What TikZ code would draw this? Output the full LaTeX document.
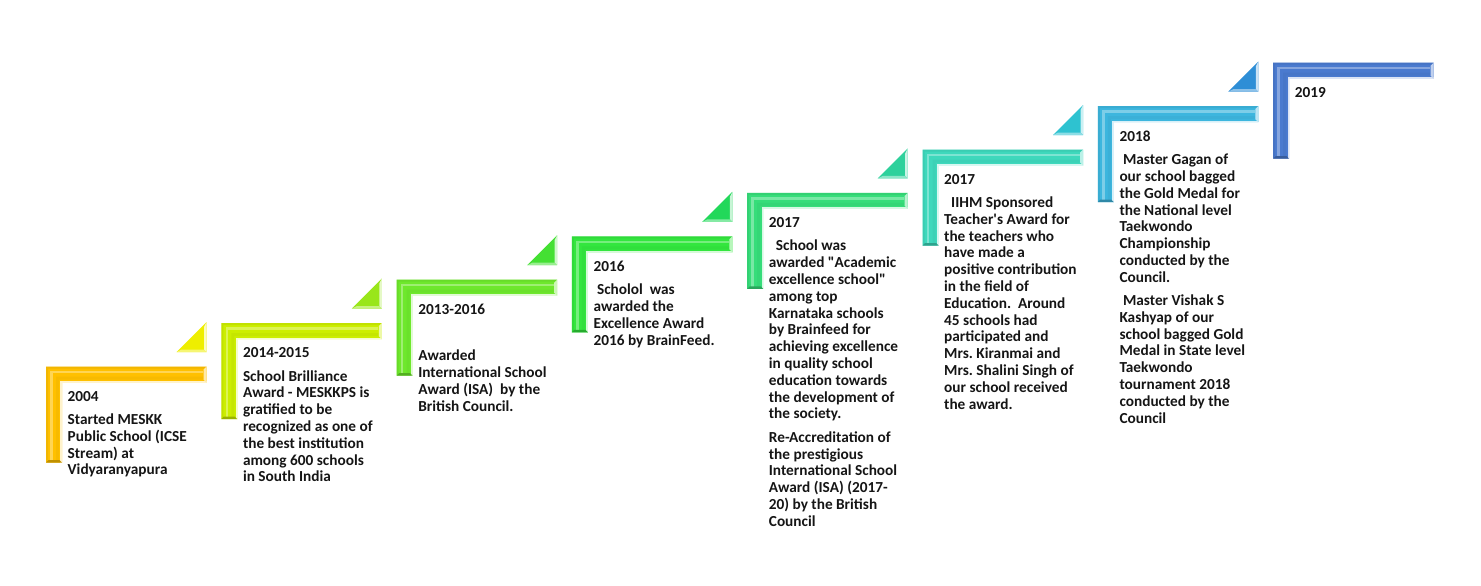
\documentclass[tikz,border=0pt]{standalone}
\usepackage{fontspec}
\setmainfont{Carlito}[Ligatures=TeXOff]
\definecolor{cA}{HTML}{FFC000}
\definecolor{tA}{HTML}{EEEE00}
\definecolor{cB}{HTML}{CCEE00}
\definecolor{tB}{HTML}{99E61A}
\definecolor{cC}{HTML}{6EE82C}
\definecolor{tC}{HTML}{44E033}
\definecolor{cD}{HTML}{33E63E}
\definecolor{tD}{HTML}{22D85A}
\definecolor{cE}{HTML}{36DD7A}
\definecolor{tE}{HTML}{2ED19C}
\definecolor{cF}{HTML}{3ED8BC}
\definecolor{tF}{HTML}{2EC2D0}
\definecolor{cG}{HTML}{3DB6DE}
\definecolor{tG}{HTML}{2E8ED6}
\definecolor{cH}{HTML}{4A7ACF}
\definecolor{txt}{HTML}{151515}
\newcommand\lstepshape[3]{%
 \begin{scope}[shift={(#1,#2)}]
  \fill[#3] (0,0) -- (160.5,0) -- (160.5,16) -- (16,16) -- (16,96) -- (0,96) -- cycle;
  \fill[#3!80!black, opacity=.25] (0,0) -- (160.5,0) -- (158.5,2) -- (2,2) -- (2,94) -- (0,96) -- cycle;
  \draw[#3!45!white, line width=2.5, opacity=.6] (157,5.5) -- (5.5,5.5) -- (5.5,94);
  \fill[#3!85!black, opacity=.2] (157,10) -- (10,10) -- (10,94) -- (13,94) -- (13,13) -- (157,13) -- cycle;
  \draw[#3!20!white, line width=1.8] (160.5,15.3) -- (15.3,15.3) -- (15.3,96);
  \fill[#3!35!white] (160.5,0) -- (160.5,16) -- (157.5,13) -- (157.5,3) -- cycle;
  \fill[#3!75!black] (0,96) -- (16,96) -- (13.5,93.5) -- (2.5,93.5) -- cycle;
 \end{scope}}
\newcommand\ltrishape[3]{%
 \begin{scope}[shift={(#1,#2)}]
  \fill[#3] (-30,0) -- (0,-30) -- (0,0) -- cycle;
  \fill[#3!25!white] (0,-30) -- (0,0) -- (-2.5,-2.5) -- (-2.5,-25) -- cycle;
  \fill[#3!55!white] (-30,0) -- (0,0) -- (-2.5,-2.5) -- (-25,-2.5) -- cycle;
 \end{scope}}
\tikzset{evtext/.style={anchor=north west, inner sep=0pt, align=left, text=txt,
  font=\fontsize{15.3}{16.8}\selectfont\bfseries\frenchspacing}}
\begin{document}
\begin{tikzpicture}[x=1pt, y=-1pt]
\useasboundingbox (0,0) rectangle (1481,586);
\lstepshape{46}{366.5}{cA}
\lstepshape{221.3}{323.1}{cB}
\lstepshape{396.6}{279.7}{cC}
\lstepshape{571.9}{236.3}{cD}
\lstepshape{747.2}{192.9}{cE}
\lstepshape{922.5}{149.5}{cF}
\lstepshape{1097.8}{106.1}{cG}
\lstepshape{1273.1}{62.7}{cH}
\ltrishape{206.5}{352}{tA}
\ltrishape{381.8}{308.6}{tB}
\ltrishape{557.1}{265.2}{tC}
\ltrishape{732.4}{221.8}{tD}
\ltrishape{907.7}{178.4}{tE}
\ltrishape{1083}{135}{tF}
\ltrishape{1258.3}{91.6}{tG}
\node[evtext] (e1) at (67.5,391) {2004\\[6.5pt]Started MESKK\\Public School (ICSE\\Stream) at\\Vidyaranyapura};
\node[evtext] (e2) at (242.8,347.6) {2014-2015\\[6.5pt]School Brilliance\\Award - MESKKPS is\\gratified to be\\recognized as one of\\the best institution\\among 600 schools\\in South India};
\node[evtext] (e3) at (418.1,304.2) {2013-2016\\[29pt]Awarded\\International School\\Award (ISA)~ by the\\British Council.};
\node[evtext] (e4) at (593.4,260.8) {2016\\[6.5pt]\hspace{3.5pt}Scholol~ was\\awarded the\\Excellence Award\\2016 by BrainFeed.};
\node[evtext] (e5) at (768.7,217.4) {2017\\[6.5pt]\hspace{7pt}School was\\awarded "Academic\\excellence school"\\among top\\Karnataka schools\\by Brainfeed for\\achieving excellence\\in quality school\\education towards\\the development of\\the society.\\[6.5pt]Re-Accreditation of\\the prestigious\\International School\\Award (ISA) (2017-\\20) by the British\\Council};
\node[evtext] (e6) at (944,174) {2017\\[6.5pt]\hspace{7pt}IIHM Sponsored\\Teacher's Award for\\the teachers who\\have made a\\positive contribution\\in the field of\\Education.~ Around\\45 schools had\\participated and\\Mrs. Kiranmai and\\Mrs. Shalini Singh of\\our school received\\the award.};
\node[evtext] (e7) at (1119.3,130.6) {2018\\[6.5pt]\hspace{3.5pt}Master Gagan of\\our school bagged\\the Gold Medal for\\the National level\\Taekwondo\\Championship\\conducted by the\\Council.\\[6.5pt]\hspace{3.5pt}Master Vishak S\\Kashyap of our\\school bagged Gold\\Medal in State level\\Taekwondo\\tournament 2018\\conducted by the\\Council};
\node[evtext] (e8) at (1294.6,87.2) {2019};
\end{tikzpicture}
\end{document}
